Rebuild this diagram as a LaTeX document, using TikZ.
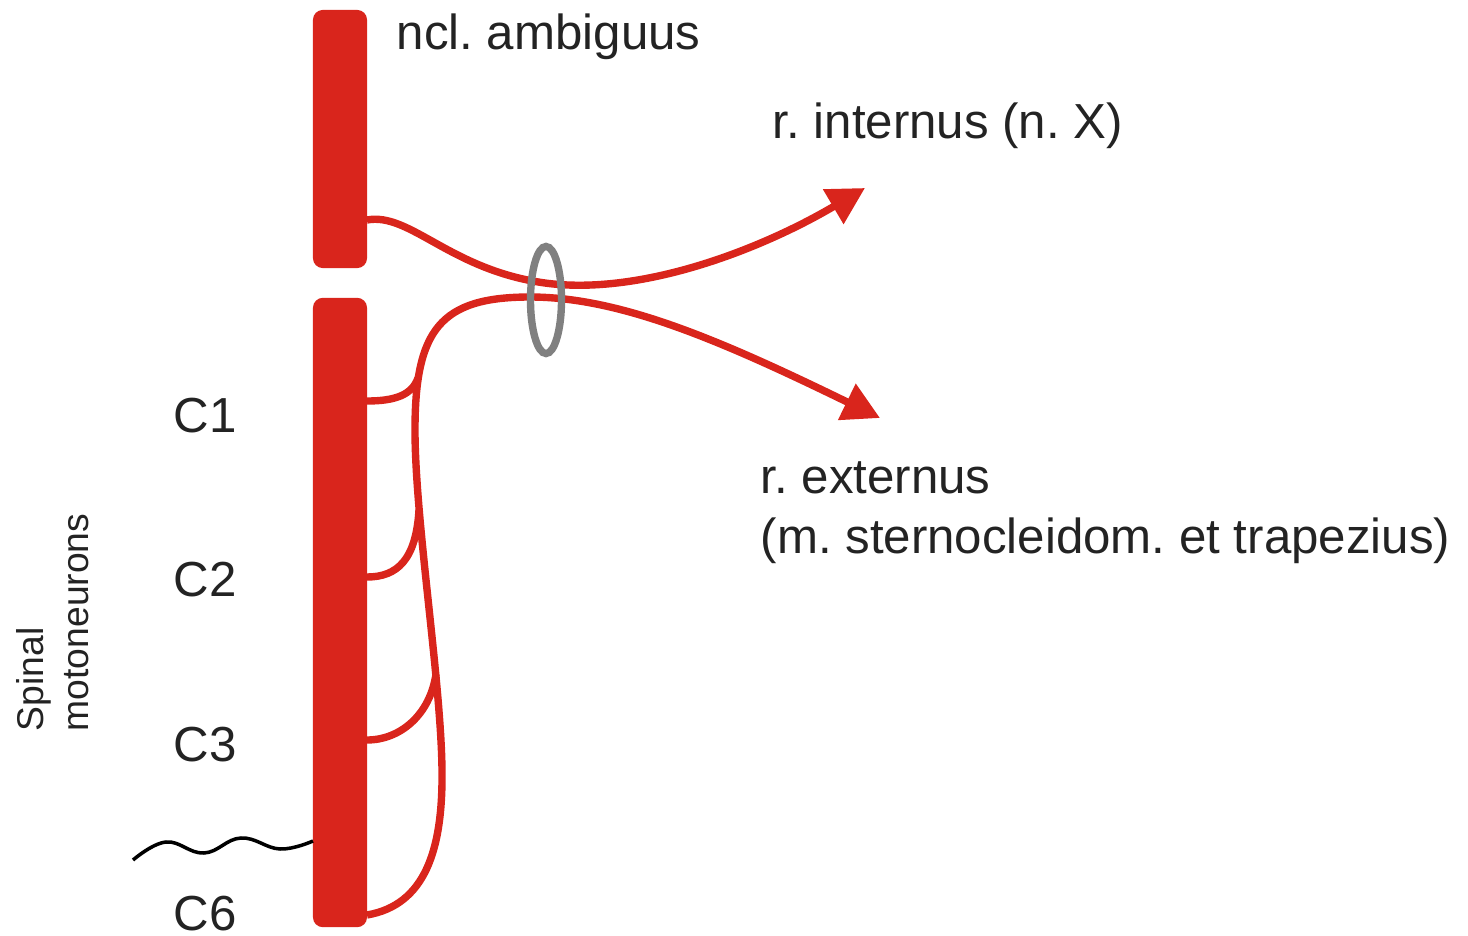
\documentclass[tikz,border=0pt]{standalone}
\usepackage{fontspec}
\setmainfont{Liberation Sans}
\usetikzlibrary{arrows.meta}
\definecolor{nerve}{RGB}{217,37,28}
\definecolor{sheath}{RGB}{128,128,128}
\definecolor{ink}{RGB}{35,35,35}
\frenchspacing

\begin{document}
\begin{tikzpicture}[x=0.01cm, y=-0.01cm,
    bar/.style={fill=nerve, rounded corners=2.8pt, minimum width=0.54cm, inner sep=0pt},
    fibre/.style={nerve, line width=2.1pt},
    tip/.style={-{Triangle[length=10.5pt,width=11pt]}},
    lbl/.style={ink, font=\fontsize{14}{16.8}\selectfont, inner sep=0pt}]
    \useasboundingbox (0,0) rectangle (1468,936);

    % Motor nuclei
    \node[bar, minimum height=2.58cm] (amb) at (340,139) {};
    \node[bar, minimum height=6.29cm] (spinal) at (340,612.5) {};

    % Exit points and targets
    \coordinate (ambout) at (367,220);
    \coordinate (c1out) at (367,401);
    \coordinate (c2out) at (367,577);
    \coordinate (c3out) at (367,740);
    \coordinate (c6out) at (367,915);
    \coordinate (inttip) at (865,188);
    \coordinate (exttip) at (880,418);

    % Vagal fibres
    \draw[fibre, tip] (ambout) .. controls (410,212) and (450,270) .. (545,283)
        .. controls (640,296) and (760,250) .. (inttip);

    % Spinal root, ascending
    \draw[fibre, tip] (c6out) .. controls (425,905) and (443,850) .. (442,770)
        .. controls (441,680) and (415,520) .. (415,430)
        .. controls (415,330) and (440,297) .. (530,297)
        .. controls (620,297) and (720,340) .. (exttip);
    \draw[fibre] (c1out) .. controls (395,401) and (412,395) .. (418,378);
    \draw[fibre] (c2out) .. controls (397,577) and (416,560) .. (419,510);
    \draw[fibre] (c3out) .. controls (400,740) and (430,715) .. (436,674);

    % Ring round the common trunk
    \draw[sheath, line width=2.1pt] (546,300) ellipse [x radius=0.155cm, y radius=0.535cm];

    % Cut
    \draw[black, line width=1pt] plot[smooth, tension=0.7] coordinates
        {(133,860) (166,842) (204,853) (241,838) (280,849) (313,841)};

    % Labels
    \node[lbl, anchor=base west] (nclamb) at (396,49) {ncl. ambiguus};
    \node[lbl, anchor=base west] (rint) at (772,138) {r. internus (n. X)};
    \node[lbl, anchor=base west, align=left] (rext) at (760,553)
        {r. externus\\(m. sternocleidom. et trapezius)};
    \node[lbl, anchor=base] (c1) at (205,432) {C1};
    \node[lbl, anchor=base] (c2) at (205,596) {C2};
    \node[lbl, anchor=base] (c3) at (205,761) {C3};
    \node[lbl, anchor=base] (c6) at (205,930) {C6};
    \node[ink, font=\fontsize{10.6}{13}\selectfont, inner sep=0pt, rotate=90,
        anchor=base west, align=left] (motor) at (89,732) {Spinal\\motoneurons};
\end{tikzpicture}
\end{document}
